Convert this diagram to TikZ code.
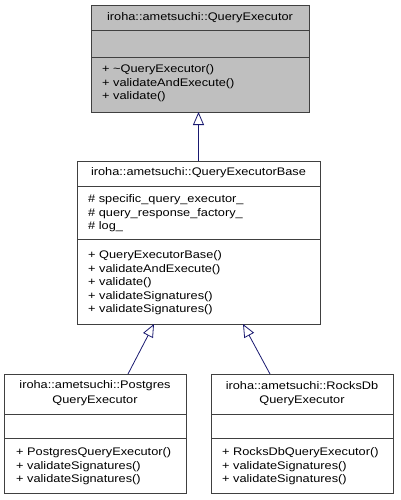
\documentclass[tikz,border=0pt]{standalone}
\usepackage{fontspec}
\setmainfont{Liberation Sans}[FakeStretch=1.16]
\usetikzlibrary{arrows.meta}
\definecolor{edgeblue}{HTML}{191970}
\definecolor{boxgray}{HTML}{BFBFBF}
\definecolor{framegray}{HTML}{404040}
\tikzset{
  umlbox/.style={draw=framegray, line width=0.9pt, inner sep=0pt, outer sep=0pt, anchor=north west, rectangle},
  txt/.style={inner sep=0pt, anchor=west, font=\fontsize{11}{13}\selectfont},
  ctxt/.style={inner sep=0pt, anchor=center, font=\fontsize{11}{13}\selectfont},
  sep/.style={draw=framegray, line width=0.9pt},
  inherit/.style={draw=edgeblue, line width=0.8pt, -{Triangle[open, length=13pt, width=11pt, fill=white]}}
}
\begin{document}
\begin{tikzpicture}[x=1pt, y=-1pt]
\useasboundingbox (0,0) rectangle (400,500);
% top box
\node[umlbox, fill=boxgray, minimum width=218pt, minimum height=107pt] (qe) at (91,5) {};
\draw[sep] (91,30) -- (309,30);
\draw[sep] (91,57) -- (309,57);
\node[ctxt] (qe-t) at (200,17.5) {iroha::ametsuchi::QueryExecutor};
\node[txt] (qe-m1) at (102,70) {+ \textasciitilde QueryExecutor()};
\node[txt] (qe-m2) at (102,83.5) {+ validateAndExecute()};
\node[txt] (qe-m3) at (102,97) {+ validate()};
% base box
\node[umlbox, fill=white, minimum width=243pt, minimum height=163pt] (qeb) at (77,161) {};
\draw[sep] (77,186) -- (320,186);
\draw[sep] (77,239) -- (320,239);
\node[ctxt] (qeb-t) at (198.5,173) {iroha::ametsuchi::QueryExecutorBase};
\node[txt] (qeb-a1) at (88,200) {\# specific\_query\_executor\_};
\node[txt] (qeb-a2) at (88,213.5) {\# query\_response\_factory\_};
\node[txt] (qeb-a3) at (88,227) {\# log\_};
\node[txt] (qeb-m1) at (88,256) {+ QueryExecutorBase()};
\node[txt] (qeb-m2) at (88,269.5) {+ validateAndExecute()};
\node[txt] (qeb-m3) at (88,283) {+ validate()};
\node[txt] (qeb-m4) at (88,296.5) {+ validateSignatures()};
\node[txt] (qeb-m5) at (88,310) {+ validateSignatures()};
% postgres box
\node[umlbox, fill=white, minimum width=182pt, minimum height=119pt] (pqe) at (4,374) {};
\draw[sep] (4,414) -- (186,414);
\draw[sep] (4,438) -- (186,438);
\node[ctxt] (pqe-t1) at (95,386) {iroha::ametsuchi::Postgres};
\node[ctxt] (pqe-t2) at (95,401) {QueryExecutor};
\node[txt] (pqe-m1) at (16,453) {+ PostgresQueryExecutor()};
\node[txt] (pqe-m2) at (16,466.5) {+ validateSignatures()};
\node[txt] (pqe-m3) at (16,480) {+ validateSignatures()};
% rocksdb box
\node[umlbox, fill=white, minimum width=182pt, minimum height=119pt] (rqe) at (211,374) {};
\draw[sep] (211,414) -- (393,414);
\draw[sep] (211,438) -- (393,438);
\node[ctxt] (rqe-t1) at (302,386) {iroha::ametsuchi::RocksDb};
\node[ctxt] (rqe-t2) at (302,401) {QueryExecutor};
\node[txt] (rqe-m1) at (222,453) {+ RocksDbQueryExecutor()};
\node[txt] (rqe-m2) at (222,466.5) {+ validateSignatures()};
\node[txt] (rqe-m3) at (222,480) {+ validateSignatures()};
% edges
\draw[inherit] (qeb.north) -- (qeb.north |- qe.south);
\draw[inherit] ([xshift=33pt]pqe.north) -- ([xshift=-44.5pt]qeb.south);
\draw[inherit] ([xshift=-32pt]rqe.north) -- ([xshift=44.5pt]qeb.south);
\end{tikzpicture}
\end{document}
